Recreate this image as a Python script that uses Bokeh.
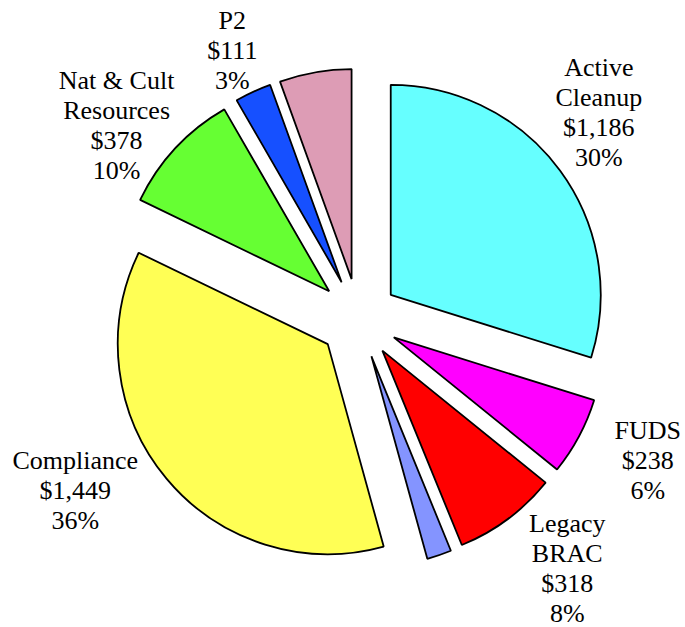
import math
from bokeh.plotting import figure
from bokeh.models import ColumnDataSource, Range1d
from bokeh.core.properties import value
from bokeh.embed import file_html
from bokeh.resources import INLINE

# ---- data (clockwise from 12 o'clock) ----
categories = ["Active\nCleanup", "FUDS", "Legacy\nBRAC", "", "Compliance",
              "Nat & Cult\nResources", "P2", ""]
amounts = [1186, 238, 318, 75, 1449, 378, 111, 220]
colors = ["#66FFFF", "#FF00FF", "#FF0000", "#8494FF", "#FFFF55",
          "#66FF33", "#1650FF", "#DD9CB5"]
# label nudges (screen px, x right / y down) relative to the default label spot
label_nudge = [(-16, -10), (9, 0), (19, 3), (0, 0), (-39, -24), (-9, 31), (8, 28), (0, 0)]

W, H = 685, 627
p = figure(width=W, height=H, output_backend="svg", toolbar_location=None,
           x_range=Range1d(0, W), y_range=Range1d(0, H),
           min_border=0, x_axis_location=None, y_axis_location=None)
p.grid.visible = False
p.outline_line_color = None
p.background_fill_color = "white"

CX, CY = 358, 627 - 318   # pie centre (data units = px)
R = 210
EXPLODE = 40
LABEL_R = 318
LINE = 30

total = sum(amounts)
xs, ys, starts, ends = [], [], [], []
labels_x, labels_y, labels_t = [], [], []
cum = 0.0
for i, a in enumerate(amounts):
    a0 = cum / total * 2 * math.pi
    cum += a
    a1 = cum / total * 2 * math.pi
    mid = (a0 + a1) / 2
    xs.append(CX + EXPLODE * math.sin(mid))
    ys.append(CY + EXPLODE * math.cos(mid))
    starts.append(math.pi / 2 - a0)
    ends.append(math.pi / 2 - a1)
    if categories[i]:
        lines = categories[i].split("\n") + [f"${a:,}", f"{round(a / total * 100)}%"]
        bx = CX + LABEL_R * math.sin(mid) + label_nudge[i][0]
        by = CY + LABEL_R * math.cos(mid) - label_nudge[i][1]
        n = len(lines)
        for k, t in enumerate(lines):
            labels_x.append(bx)
            labels_y.append(by - (k - (n - 1) / 2) * LINE + 8)
            labels_t.append(t)

src = ColumnDataSource(dict(x=xs, y=ys, start=starts, end=ends, color=colors))
p.wedge(x="x", y="y", radius=R, start_angle="start", end_angle="end",
        direction="clock", fill_color="color", line_color="black",
        line_width=1.8, source=src)

lsrc = ColumnDataSource(dict(x=labels_x, y=labels_y, t=labels_t))
p.text(x="x", y="y", text="t", source=lsrc, text_font=value("Liberation Serif"),
       text_font_size="26px", text_color="black", text_align="center",
       text_baseline="alphabetic")

open("out.html", "w").write(file_html(p, INLINE))
